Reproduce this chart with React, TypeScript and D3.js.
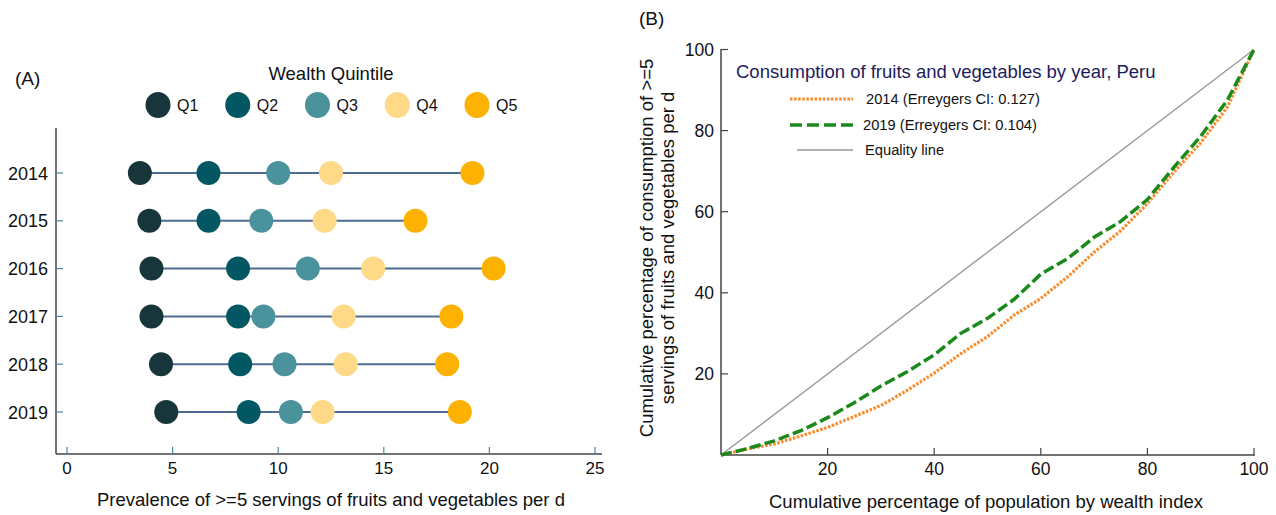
import React from "react";
import * as d3 from "d3";

// panel A: prevalence by wealth quintile
const years = ["2014", "2015", "2016", "2017", "2018", "2019"];
const quintiles = ["Q1", "Q2", "Q3", "Q4", "Q5"];
const quintileColors = ["#17353a", "#035763", "#4a929c", "#fdd988", "#fdb100"];
const q1 = [3.45, 3.9, 4.0, 4.0, 4.45, 4.7];
const q2 = [6.7, 6.7, 8.1, 8.1, 8.2, 8.6];
const q3 = [10.0, 9.2, 11.4, 9.3, 10.3, 10.6];
const q4 = [12.5, 12.2, 14.5, 13.1, 13.2, 12.1];
const q5 = [19.2, 16.5, 20.2, 18.2, 18.0, 18.6];
const prevTicks = [0, 5, 10, 15, 20, 25];

// panel B: concentration curves
const popPct = [0, 5, 10, 15, 20, 25, 30, 35, 40, 45, 50, 55, 60, 65, 70, 75, 80, 85, 90, 95, 100];
const cum2014 = [0, 1.5, 2.7, 4.7, 6.8, 9.5, 12.2, 16, 20.2, 25, 29.2, 34.5, 38.6, 43.9, 50, 55.3, 62, 69.8, 77, 85.8, 100];
const cum2019 = [0, 1.6, 3.5, 6, 9.2, 12.9, 17, 20.6, 24.7, 30, 33.7, 38.4, 44.6, 48.4, 53.7, 57.6, 63, 71, 78.6, 87.5, 100];
const curveTicks = [20, 40, 60, 80, 100];

const font = "'Liberation Sans', Arial, Helvetica, sans-serif";

function PanelA() {
  const x = d3.scaleLinear().domain([0, 25]).range([67, 595]);
  const y = d3.scalePoint().domain(years).range([173, 412]);
  const series = [q1, q2, q3, q4, q5];
  const legendX = d3.scalePoint().domain(quintiles).range([158, 477]);
  return (
    <g fontFamily={font}>
      <text x={15} y={85} fontSize={19} fill="#111">(A)</text>
      <text x={331} y={80} fontSize={18.5} textAnchor="middle" fill="#111">Wealth Quintile</text>
      {quintiles.map((q, i) => (
        <g key={q}>
          <ellipse cx={legendX(q)} cy={105} rx={12.5} ry={13} fill={quintileColors[i]} />
          <text x={(legendX(q) as number) + 19} y={111} fontSize={16} fill="#111">{q}</text>
        </g>
      ))}
      {/* axes */}
      <line x1={56} x2={56} y1={128} y2={454} stroke="#444" strokeWidth={1.5} />
      <line x1={56} x2={602} y1={454} y2={454} stroke="#444" strokeWidth={1.5} />
      {years.map((yr) => (
        <g key={yr}>
          <line x1={56} x2={63} y1={y(yr)} y2={y(yr)} stroke="#4a8a9a" strokeWidth={1.2} />
          <text x={48} y={(y(yr) as number) + 6.5} fontSize={18} textAnchor="end" fill="#111">{yr}</text>
        </g>
      ))}
      {prevTicks.map((t) => (
        <g key={t}>
          <line x1={x(t)} x2={x(t)} y1={454} y2={447} stroke="#4a8a9a" strokeWidth={1.2} />
          <text x={x(t)} y={474} fontSize={17} textAnchor="middle" fill="#111">{t}</text>
        </g>
      ))}
      <text x={331} y={506} fontSize={18.5} textAnchor="middle" fill="#111">
        Prevalence of &gt;=5 servings of fruits and vegetables per d
      </text>
      {/* dumbbells */}
      {years.map((yr, i) => {
        const vals = series.map((s) => s[i]);
        return (
          <g key={yr}>
            <line x1={x(d3.min(vals)!)} x2={x(d3.max(vals)!)} y1={y(yr)} y2={y(yr)} stroke="#4d6c92" strokeWidth={2} />
            {vals.map((v, j) => (
              <circle key={j} cx={x(v)} cy={y(yr)} r={12} fill={quintileColors[j]} />
            ))}
          </g>
        );
      })}
    </g>
  );
}

function PanelB() {
  const x = d3.scaleLinear().domain([0, 100]).range([721, 1254]);
  const y = d3.scaleLinear().domain([0, 100]).range([455, 49.5]);
  const line = d3.line<number>().x((_, i) => x(popPct[i])).y((d) => y(d));
  return (
    <g fontFamily={font}>
      <text x={639} y={25} fontSize={19} fill="#111">(B)</text>
      <line x1={721} x2={721} y1={49} y2={455} stroke="#444" strokeWidth={1.5} />
      <line x1={721} x2={1255} y1={455} y2={455} stroke="#444" strokeWidth={1.5} />
      {curveTicks.map((t) => (
        <g key={"y" + t}>
          <line x1={721} x2={728} y1={y(t)} y2={y(t)} stroke="#444" strokeWidth={1.2} />
          <text x={714} y={y(t) + 6.5} fontSize={17.5} textAnchor="end" fill="#111">{t}</text>
        </g>
      ))}
      {curveTicks.map((t) => (
        <g key={"x" + t}>
          <line x1={x(t)} x2={x(t)} y1={455} y2={448} stroke="#444" strokeWidth={1.2} />
          <text x={x(t)} y={475} fontSize={17.5} textAnchor="middle" fill="#111">{t}</text>
        </g>
      ))}
      <text transform="translate(653,248) rotate(-90)" fontSize={18.5} textAnchor="middle" fill="#111">
        Cumulative percentage of consumption of &gt;=5
      </text>
      <text transform="translate(674,248) rotate(-90)" fontSize={18.5} textAnchor="middle" fill="#111">
        servings of fruits and vegetables per d
      </text>
      <text x={986} y={508} fontSize={18.5} textAnchor="middle" fill="#111">
        Cumulative percentage of population by wealth index
      </text>
      {/* curves */}
      <line x1={x(0)} y1={y(0)} x2={x(100)} y2={y(100)} stroke="#999" strokeWidth={1.4} />
      <path d={line(cum2014)!} fill="none" stroke="#fb8a2a" strokeWidth={3.2} strokeDasharray="2.5,1.6" />
      <path d={line(cum2019)!} fill="none" stroke="#1b8a1b" strokeWidth={3.5} strokeDasharray="11,4" />
      {/* legend */}
      <text x={736} y={78} fontSize={18.5} fill="#1c1c5c">Consumption of fruits and vegetables by year, Peru</text>
      <line x1={790} x2={853} y1={99} y2={99} stroke="#fb8a2a" strokeWidth={3.2} strokeDasharray="2.5,1.6" />
      <text x={866} y={104} fontSize={14.7} fill="#111">2014 (Erreygers CI: 0.127)</text>
      <line x1={790} x2={853} y1={125} y2={125} stroke="#1b8a1b" strokeWidth={3.5} strokeDasharray="12,5" />
      <text x={863} y={130} fontSize={14.7} fill="#111">2019 (Erreygers CI: 0.104)</text>
      <line x1={797} x2={853} y1={150} y2={150} stroke="#999" strokeWidth={1.4} />
      <text x={865} y={155} fontSize={14.7} fill="#111">Equality line</text>
    </g>
  );
}

export default function App() {
  return (
    <svg
      width={1276}
      height={515}
      style={{ position: "absolute", left: 0, top: 0, background: "#fff" }}
    >
      <PanelA />
      <PanelB />
    </svg>
  );
}
